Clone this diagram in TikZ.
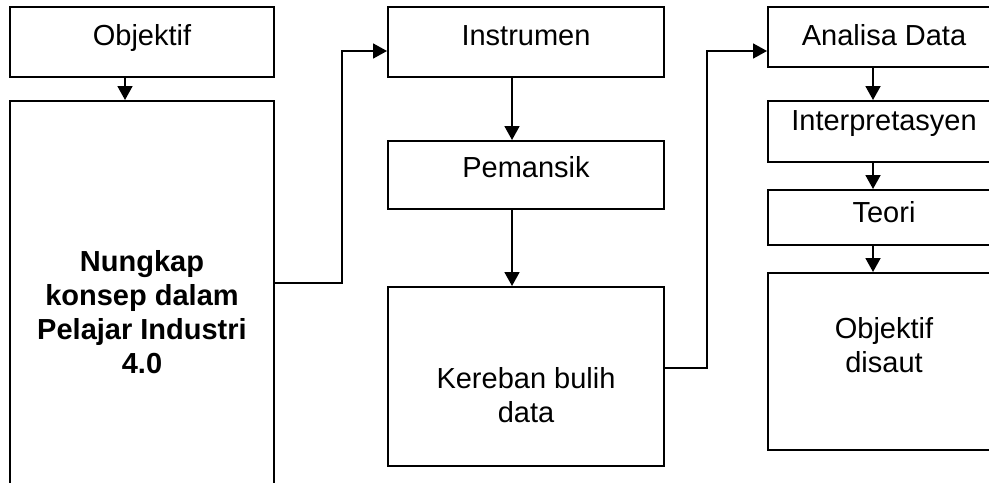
\documentclass[tikz,border=0pt]{standalone}
\usepackage{fontspec}
\setmainfont{Liberation Sans}
\usetikzlibrary{positioning,arrows.meta}

\begin{document}
\begin{tikzpicture}[x=0.5pt,y=-0.5pt,
	box/.style={draw, line width=1pt, inner sep=0pt},
	lbl/.style={font=\fontsize{14.5}{17}\selectfont, align=center, inner sep=0pt, anchor=base},
	flow/.style={line width=0.9pt, -{Triangle[width=7.5pt,length=7pt]}}]
				%\draw[help lines] (0,0) grid (989,482);
				\clip (0,0) rectangle (989,482);
				
				\node[box, minimum width=132pt, minimum height=35pt] (obj) at (142,42) {};
				\node[box, minimum width=132pt, minimum height=220pt, below=11pt of obj] (nung) {};
				\node[box, minimum width=138pt, minimum height=35pt] (instr) at (526,42) {};
				\node[box, minimum width=138pt, minimum height=34pt, below=31pt of instr] (pem) {};
				\node[box, minimum width=138pt, minimum height=89.5pt, below=38pt of pem] (kere) {};
				\node[box, minimum width=116pt, minimum height=30pt] (anal) at (884,37) {};
				\node[box, minimum width=116pt, minimum height=30.5pt, below=16pt of anal] (interp) {};
				\node[box, minimum width=116pt, minimum height=27.5pt, below=13pt of interp] (teori) {};
				\node[box, minimum width=116pt, minimum height=88.5pt, below=13pt of teori] (disaut) {};
				
				% multi-line labels sit on their last baseline
				\node[lbl] (obj-t) at (142,45) {Objektif};
				\node[lbl, font=\fontsize{14.5}{17}\selectfont\bfseries] (nung-t) at (142,373) {Nungkap\\konsep dalam\\Pelajar Industri\\4.0};
				\node[lbl] (instr-t) at (526,45) {Instrumen};
				\node[lbl] (pem-t) at (526,177) {Pemansik};
				\node[lbl] (kere-t) at (526,422) {Kereban bulih\\data};
				\node[lbl] (anal-t) at (884,45) {Analisa Data};
				\node[lbl] (interp-t) at (884,130) {Interpretasyen};
				\node[lbl] (teori-t) at (884,222) {Teori};
				\node[lbl] (disaut-t) at (884,372) {Objektif\\disaut};
				
				\foreach \a/\b/\s in {obj/nung/-8.5pt, instr/pem/-7pt, pem/kere/-7pt, anal/interp/-5.5pt, interp/teori/-5.5pt, teori/disaut/-5.5pt}{\draw[flow] ([xshift=\s]\a.south) -- ([xshift=\s]\b.north);};
				
				\coordinate (k1) at (342,283);
				\coordinate (k2) at (707,368);
				\draw[flow] (k1 -| nung.east) -- (k1) |- ([yshift=-4.5pt]instr.west);
				\draw[flow] (k2 -| kere.east) -- (k2) |- ([yshift=-7pt]anal.west);
			\end{tikzpicture}
\end{document}
